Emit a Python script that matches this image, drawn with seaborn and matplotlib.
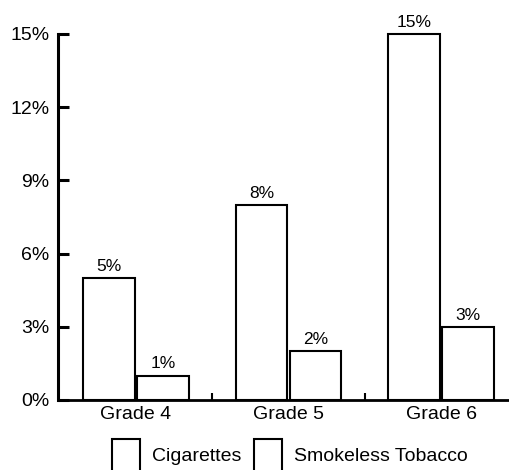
import matplotlib
matplotlib.use("Agg")
import matplotlib.pyplot as plt
import matplotlib.patches as mpatches
import seaborn as sns
import pandas as pd

grades = ["Grade 4", "Grade 5", "Grade 6"]
cigarettes = [5, 8, 15]
smokeless = [1, 2, 3]
series_names = ["Cigarettes", "Smokeless Tobacco"]
yticks = [0, 3, 6, 9, 12, 15]

df = pd.DataFrame({
    "grade": grades * 2,
    "value": cigarettes + smokeless,
    "product": [series_names[0]] * len(grades) + [series_names[1]] * len(grades),
})

sns.set_style("white")
plt.rcParams["font.family"] = ["Liberation Sans", "DejaVu Sans"]
plt.rcParams["text.color"] = "black"

fig = plt.figure(figsize=(5.1, 4.7), dpi=100)
ax = fig.add_axes([58 / 510, 70 / 470, 452 / 510, 366 / 470])

sns.barplot(data=df, x="grade", y="value", hue="product", hue_order=series_names,
            palette=["white", "white"], edgecolor="black", linewidth=1.5,
            width=0.71, gap=0.05, legend=False, ax=ax)

for cont in ax.containers:
    for p in cont:
        p.set_clip_on(False)
    ax.bar_label(cont, fmt="%g%%", padding=3, fontsize=12.5, color="black")

ax.set_ylim(0, 15)
ax.set_xlim(-0.511, 2.452)
ax.set_yticks(yticks)
ax.set_yticklabels([f"{t}%" for t in yticks])
ax.set_xlabel("")
ax.set_ylabel("")

for s in ["top", "right"]:
    ax.spines[s].set_visible(False)
ax.spines["left"].set_linewidth(2.2)
ax.spines["bottom"].set_linewidth(2.0)
ax.spines["left"].set_color("black")
ax.spines["bottom"].set_color("black")

ax.tick_params(axis="y", direction="in", length=8, width=2.2, pad=6,
               labelsize=14, colors="black", left=True)
ax.tick_params(axis="x", which="major", length=0, pad=4, labelsize=14, colors="black")
ax.set_xticks([0.5, 1.5], minor=True)
ax.tick_params(axis="x", which="minor", direction="in", length=5, width=1.5,
               bottom=True, colors="black")

handles = [mpatches.Patch(facecolor="white", edgecolor="black", linewidth=1.5)
           for _ in series_names]
fig.legend(handles, series_names, loc="upper left",
           bbox_to_anchor=(112 / 510, 31 / 470), ncol=2, frameon=False,
           fontsize=14, labelcolor="black",
           handlelength=1.45, handleheight=2.2, handletextpad=0.6,
           columnspacing=0.67, borderpad=0, borderaxespad=0)

fig.savefig("out.png", dpi=100)
